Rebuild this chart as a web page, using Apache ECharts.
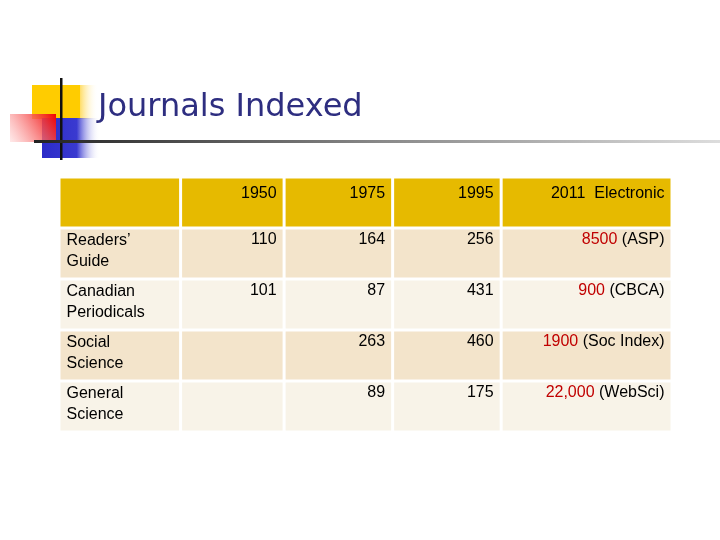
<!DOCTYPE html>
<html><head><meta charset="utf-8">
<script src="https://cdn.jsdelivr.net/npm/echarts@6/dist/echarts.min.js"></script>
<style>html,body{margin:0;padding:0;background:#fff}#c{width:720px;height:540px}</style>
</head><body><div id="c"></div>
<script>
var columns = ['', '1950', '1975', '1995', '2011  Electronic'];
var rowNames = ['Readers’\nGuide', 'Canadian\nPeriodicals', 'Social\nScience', 'General\nScience'];
var v1950 = ['110', '101', '', ''];
var v1975 = ['164', '87', '263', '89'];
var v1995 = ['256', '431', '460', '175'];
var v2011 = ['8500', '900', '1900', '22,000'];
var v2011Source = ['(ASP)', '(CBCA)', '(Soc Index)', '(WebSci)'];
// column edge positions on the x value axis (layout)
var colEdges = [0, 121, 224, 332, 440, 610];

var data = [];
columns.forEach(function (c, i) { data.push([i, 0, c, '']); });
rowNames.forEach(function (n, r) {
  data.push([0, r + 1, n, '']);
  data.push([1, r + 1, v1950[r], '']);
  data.push([2, r + 1, v1975[r], '']);
  data.push([3, r + 1, v1995[r], '']);
  data.push([4, r + 1, v2011[r], v2011Source[r]]);
});

function renderItem(params, api) {
  var c = api.value(0), r = api.value(1);
  var p0 = api.coord([colEdges[c], r]);
  var p1 = api.coord([colEdges[c + 1], r + 1]);
  var x = p0[0] + 1.5, y = p0[1] + 1.5, w = p1[0] - p0[0] - 3, h = p1[1] - p0[1] - 3;
  var fill = r === 0 ? '#E6BA00' : (r % 2 === 1 ? '#F3E4CB' : '#F8F3E8');
  var txt = data[params.dataIndex];
  var children = [{ type: 'rect', shape: { x: x, y: y, width: w, height: h }, style: { fill: fill } }];
  var font = '16px "Liberation Sans", Arial, sans-serif';
  if (c === 0) {
    children.push({ type: 'text', style: { x: x + 6, y: y + 1, text: txt[2], fill: '#000', font: font, textAlign: 'left', textVerticalAlign: 'top', lineHeight: 21 } });
  } else if (c === 4 && r > 0) {
    children.push({ type: 'text', style: { x: x + w - 6, y: y + 2, text: '{r|' + txt[2] + '} ' + txt[3], fill: '#000', font: font, textAlign: 'right', textVerticalAlign: 'top',
      rich: { r: { fill: '#C00000', font: font } } } });
  } else {
    children.push({ type: 'text', style: { x: x + w - 6, y: y + (r === 0 ? 7 : 2), text: txt[2], fill: '#000', font: font, textAlign: 'right', textVerticalAlign: 'top' } });
  }
  return { type: 'group', children: children };
}

var chart = echarts.init(document.getElementById('c'), null, { renderer: 'canvas' });
chart.setOption({
  backgroundColor: '#fff',
  animation: false,
  grid: { left: 59, top: 177, width: 613, height: 255 },
  xAxis: { type: 'value', min: 0, max: 610, show: false },
  yAxis: { type: 'value', min: 0, max: 5, inverse: true, show: false },
  graphic: [
    { type: 'rect', shape: { x: 32, y: 85, width: 48, height: 34 }, style: { fill: '#FFCC00' } },
    { type: 'rect', shape: { x: 80, y: 85, width: 18, height: 34 }, style: { fill: new echarts.graphic.LinearGradient(0, 0, 1, 0, [{ offset: 0, color: '#FFDD66' }, { offset: 1, color: 'rgba(255,255,255,0)' }]) } },
    { type: 'rect', shape: { x: 42, y: 118, width: 58, height: 40 }, style: { fill: new echarts.graphic.LinearGradient(0, 0, 1, 0, [{ offset: 0, color: '#2B2BC8' }, { offset: 0.6, color: '#3A3AD0' }, { offset: 1, color: 'rgba(255,255,255,0)' }]) } },
    { type: 'rect', shape: { x: 10, y: 114, width: 46, height: 28 }, style: { fill: new echarts.graphic.LinearGradient(1, 0, 0, 1, [{ offset: 0, color: '#F00000' }, { offset: 1, color: 'rgba(255,220,220,0.6)' }]) } },
    { type: 'rect', shape: { x: 60, y: 78, width: 2.5, height: 82 }, style: { fill: '#111' } },
    { type: 'rect', shape: { x: 34, y: 140, width: 686, height: 3 }, style: { fill: new echarts.graphic.LinearGradient(0, 0, 1, 0, [{ offset: 0, color: '#222' }, { offset: 0.5, color: '#888' }, { offset: 1, color: '#ddd' }]) } },
    { type: 'text', style: { x: 98, y: 108, text: 'Journals Indexed', font: '32px "DejaVu Sans", sans-serif', fill: '#2E2E80', textVerticalAlign: 'middle' } }
  ],
  series: [{ type: 'custom', coordinateSystem: 'cartesian2d', renderItem: renderItem, data: data, silent: true }]
});
</script></body></html>
